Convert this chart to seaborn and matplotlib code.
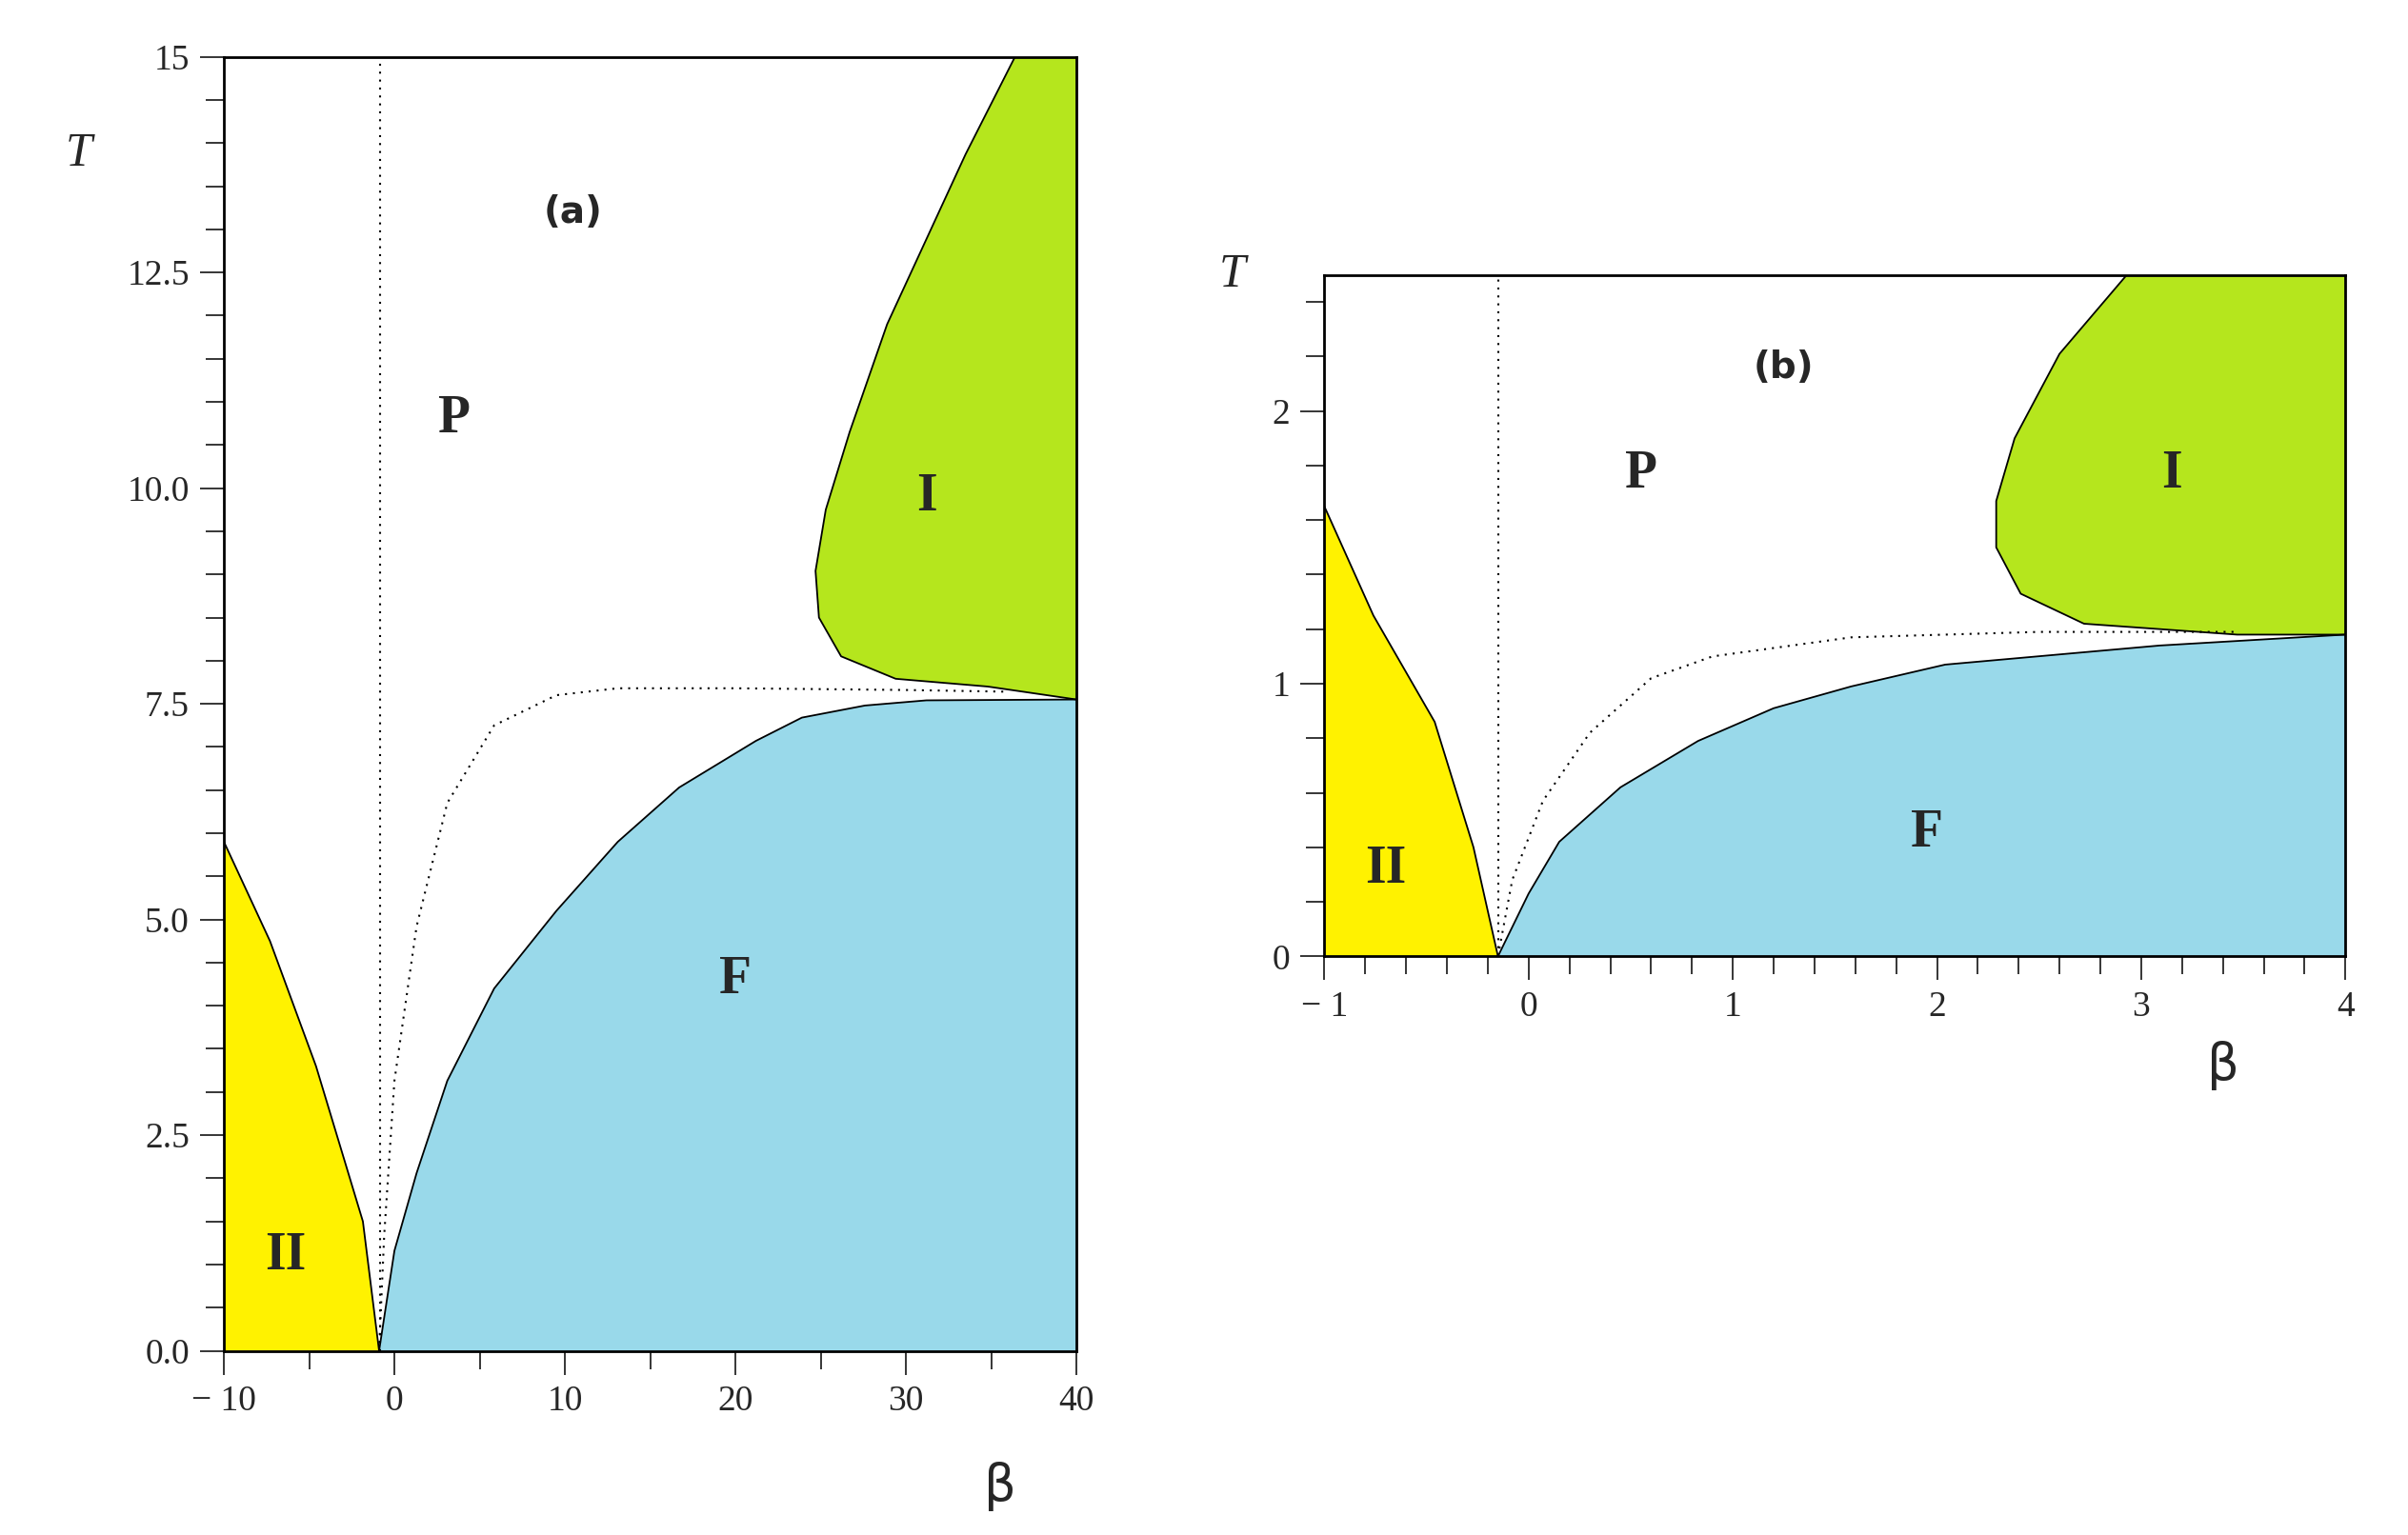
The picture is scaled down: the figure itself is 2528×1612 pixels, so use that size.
import matplotlib
matplotlib.use("Agg")
import matplotlib.pyplot as plt
import seaborn as sns
import numpy as np
from matplotlib.ticker import MultipleLocator, FixedLocator

sns.set_style("white")
plt.rcParams['font.family'] = ['Liberation Serif', 'DejaVu Serif']

YEL, GRN, BLU = "#FFF200", "#B5E61D", "#99D9EA"

# Panel (a)
a_II_b = [-10, -7.3, -4.6, -1.85, -0.9]
a_II_T = [5.9, 4.75, 3.3, 1.5, 0.0]
a_F_b = [-0.9, 0.0, 1.3, 3.1, 5.85, 9.5, 13.1, 16.7, 21.2, 23.9, 27.6, 31.2, 40]
a_F_T = [0.0, 1.16, 2.06, 3.13, 4.2, 5.1, 5.9, 6.53, 7.07, 7.34, 7.48, 7.54, 7.55]
a_I_b = [40, 34.8, 29.4, 26.2, 24.9, 24.7, 25.3, 26.7, 28.9, 33.5, 36.4]
a_I_T = [7.55, 7.7, 7.79, 8.05, 8.5, 9.04, 9.75, 10.65, 11.9, 13.87, 15.0]
a_dot_b = [-0.9, -0.6, 0.0, 1.3, 3.1, 5.85, 9.5, 13.1, 20, 30, 36]
a_dot_T = [0.0, 1.34, 3.13, 4.92, 6.35, 7.25, 7.6, 7.68, 7.68, 7.66, 7.64]
a_vline = -0.85

# Panel (b)
b_II_b = [-1.0, -0.76, -0.46, -0.27, -0.15]
b_II_T = [1.65, 1.25, 0.86, 0.40, 0.0]
b_F_b = [-0.15, 0.0, 0.15, 0.45, 0.83, 1.2, 1.58, 2.04, 2.49, 3.09, 4.0]
b_F_T = [0.0, 0.23, 0.42, 0.62, 0.79, 0.91, 0.99, 1.07, 1.10, 1.14, 1.18]
b_I_b = [4.0, 3.47, 2.72, 2.41, 2.29, 2.29, 2.38, 2.6, 2.93]
b_I_T = [1.18, 1.18, 1.22, 1.33, 1.5, 1.67, 1.9, 2.21, 2.5]
b_dot_b = [-0.15, -0.08, 0.07, 0.3, 0.6, 0.9, 1.58, 2.5, 3.47]
b_dot_T = [0.0, 0.28, 0.57, 0.82, 1.02, 1.10, 1.17, 1.19, 1.19]
b_vline = -0.15

fig = plt.figure(figsize=(25.28, 16.12), dpi=100)
axa = fig.add_axes([0.093, 0.120, 0.354, 0.843])
axb = fig.add_axes([0.550, 0.377, 0.424, 0.444])

def fmt(v, dec):
    s = f"{abs(v):.{dec}f}" if dec else f"{abs(int(round(v)))}"
    return ("− " + s) if v < 0 else s

def panel(ax, xlim, ylim, II, F, I, dot, vline, xmaj, xmin, ymaj, ymin, ydec, labels, tag, tagpos, Tpos, bpos):
    x0, x1 = xlim; y0, y1 = ylim
    ax.fill(list(II[0]) + [II[0][-1], x0], list(II[1]) + [y0, y0], color=YEL, lw=0)
    ax.fill(list(F[0]) + [x1], list(F[1]) + [y0], color=BLU, lw=0)
    ax.fill(list(I[0]) + [x1], list(I[1]) + [y1], color=GRN, lw=0)
    for xs, ys in (II, F, I):
        sns.lineplot(x=xs, y=ys, ax=ax, color="black", lw=1.3, sort=False, estimator=None)
    sns.lineplot(x=dot[0], y=dot[1], ax=ax, color="black", lw=1.5, ls=(0, (1, 3)), sort=False, estimator=None)
    ax.plot([vline, vline], [y0, y1], color="black", lw=1.5, ls=(0, (1, 3)))
    ax.set_xlim(xlim); ax.set_ylim(ylim)
    ax.xaxis.set_major_locator(FixedLocator(xmaj))
    ax.xaxis.set_minor_locator(MultipleLocator(xmin))
    ax.yaxis.set_major_locator(FixedLocator(ymaj))
    ax.yaxis.set_minor_locator(MultipleLocator(ymin))
    ax.set_xticklabels([fmt(v, 0) for v in xmaj])
    ax.set_yticklabels([fmt(v, ydec) for v in ymaj])
    ax.tick_params(which="both", direction="out", length=18, width=1.3, labelsize=27,
                   bottom=True, left=True, pad=8)
    ax.tick_params(which="minor", length=14)
    for s in ax.spines.values():
        s.set_linewidth(2); s.set_color("black")
    for (txt, x, y) in labels:
        ax.text(x, y, txt, fontsize=40, fontweight="bold", ha="center", va="center")
    ax.text(*tagpos, tag, fontsize=28, fontweight="bold", family="DejaVu Sans", ha="center", va="center")
    ax.text(*Tpos, "T", fontsize=36, style="italic", transform=ax.transAxes, ha="center", va="center")
    ax.text(*bpos, "β", fontsize=38, family="DejaVu Sans", transform=ax.transAxes, ha="center", va="center")
    ax.set_xlabel(""); ax.set_ylabel("")

panel(axa, (-10, 40), (0, 15), (a_II_b, a_II_T), (a_F_b, a_F_T), (a_I_b, a_I_T), (a_dot_b, a_dot_T), a_vline,
      [-10, 0, 10, 20, 30, 40], 5, [0, 2.5, 5, 7.5, 10, 12.5, 15], 0.5, 1,
      [("P", 3.5, 10.8), ("I", 31.2, 9.9), ("II", -6.4, 1.1), ("F", 20, 4.3)], "(a)", (10.5, 13.2),
      (-0.17, 0.925), (0.91, -0.105))
axa.set_yticklabels(["0.0", "2.5", "5.0", "7.5", "10.0", "12.5", "15"])

panel(axb, (-1, 4), (0, 2.5), (b_II_b, b_II_T), (b_F_b, b_F_T), (b_I_b, b_I_T), (b_dot_b, b_dot_T), b_vline,
      [-1, 0, 1, 2, 3, 4], 0.2, [0, 1, 2], 0.2, 0,
      [("P", 0.55, 1.77), ("I", 3.15, 1.77), ("II", -0.7, 0.32), ("F", 1.95, 0.45)], "(b)", (1.25, 2.16),
      (-0.09, 1.0), (0.88, -0.16))

fig.savefig("out.png", dpi=100)
